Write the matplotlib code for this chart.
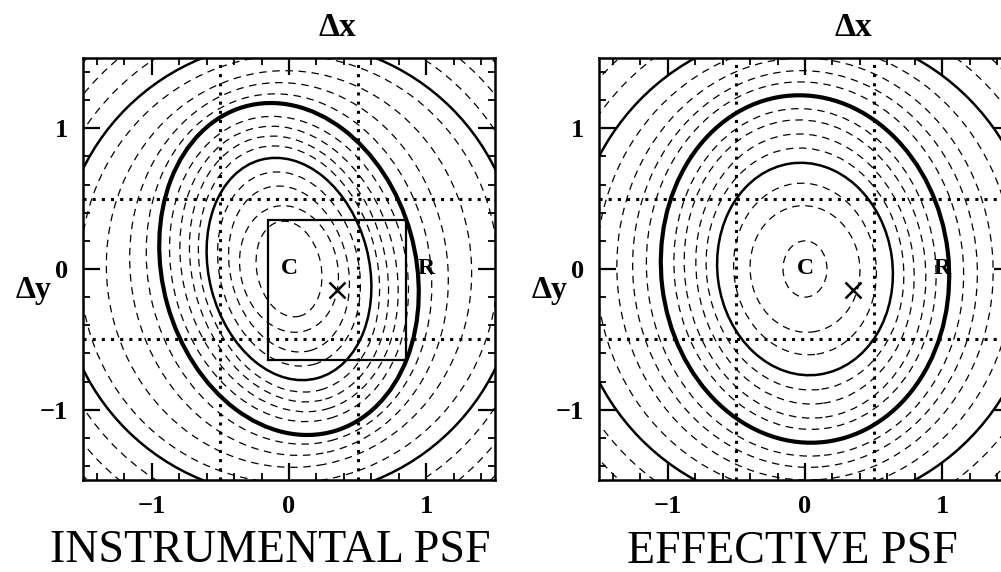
import numpy as np
import matplotlib
matplotlib.use('Agg')
import matplotlib.pyplot as plt
from matplotlib.patches import Ellipse, Rectangle

# contour half-widths / half-heights in pixel units, and tilt of the long axis (deg)
# 'd' = dashed level, 's' = solid decade, 't' = thick decade
instr_hx = [0.24, 0.36, 0.44, 0.52, 0.60, 0.66, 0.725, 0.795, 0.87, 0.945,
            1.04, 1.16, 1.33, 1.52, 1.67, 1.80, 1.95, 2.10]
instr_hy = [0.34, 0.45, 0.59, 0.69, 0.79, 0.875, 0.945, 1.015, 1.085, 1.18,
            1.245, 1.325, 1.41, 1.52, 1.62, 1.78, 1.94, 2.10]
instr_tilt = [12, 14, 15, 15, 15, 15, 16, 16, 16, 16, 14, 12, 9, 5, 0, 0, 0, 0]
instr_style = ['d', 'd', 'd', 'd', 's', 'd', 'd', 'd', 'd', 't',
               'd', 'd', 'd', 'd', 's', 'd', 'd', 'd']

eff_hx = [0.16, 0.40, 0.52, 0.64, 0.72, 0.795, 0.88, 0.955, 1.05,
          1.155, 1.255, 1.37, 1.52, 1.70, 1.86, 2.02, 2.17]
eff_hy = [0.20, 0.45, 0.61, 0.755, 0.86, 0.96, 1.06, 1.14, 1.235,
          1.33, 1.41, 1.50, 1.60, 1.70, 1.86, 2.02, 2.17]
eff_tilt = [0, 7, 8, 8, 8, 8, 8, 7, 7, 6, 5, 4, 2, 0, 0, 0, 0]
eff_style = ['d', 'd', 'd', 's', 'd', 'd', 'd', 'd', 't',
             'd', 'd', 'd', 'd', 's', 'd', 'd', 'd']

# pixel centre C, neighbour R, source position x and the pixel box
centre = (0.0, 0.0)
neighbour = (1.0, 0.0)
source = (0.35, -0.15)
pixel_size = 1.0
pixel_edges = [-0.5, 0.5]

line_kw = {
    'd': dict(lw=0.9, ls=(0, (6, 4.5))),
    's': dict(lw=1.8, ls='-'),
    't': dict(lw=3.0, ls='-'),
}

plt.rcParams['axes.unicode_minus'] = True
serif = ['Liberation Serif', 'DejaVu Serif']


def ellipse_size(hx, hy, tilt):
    # full width/height of an ellipse with given half extents along x and y
    t = np.radians(tilt)
    c2, s2 = np.cos(t) ** 2, np.sin(t) ** 2
    d = c2 - s2
    a2 = (hy ** 2 * c2 - hx ** 2 * s2) / d
    b2 = (hx ** 2 * c2 - hy ** 2 * s2) / d
    return 2 * np.sqrt(b2), 2 * np.sqrt(a2)


def panel(ax, hx, hy, tilt, style, title, title_x, box=False):
    for w_, h_, t_, s_ in zip(hx, hy, tilt, style):
        w, h = ellipse_size(w_, h_, t_)
        ax.add_patch(Ellipse(centre, w, h, angle=t_, fill=False,
                             color='black', **line_kw[s_]))

    for e in pixel_edges:
        ax.axvline(e, color='black', lw=2.2, ls=(0, (1, 2)))
        ax.axhline(e, color='black', lw=2.2, ls=(0, (1, 2)))

    if box:
        ax.add_patch(Rectangle((source[0] - pixel_size / 2, source[1] - pixel_size / 2),
                               pixel_size, pixel_size, fill=False,
                               color='black', lw=1.6))

    ax.plot(*source, marker='x', ms=12, mew=1.8, color='black')
    ax.text(*centre, 'C', ha='center', va='center', fontsize=17,
            fontweight='bold', family=serif)
    ax.text(*neighbour, 'R', ha='center', va='center', fontsize=17,
            fontweight='bold', family=serif)

    ax.set_xlim(-1.5, 1.5)
    ax.set_ylim(-1.5, 1.5)
    ax.set_xticks([-1, 0, 1])
    ax.set_yticks([-1, 0, 1])
    ax.set_xticks(np.arange(-1.4, 1.5, 0.2), minor=True)
    ax.set_yticks(np.arange(-1.4, 1.5, 0.2), minor=True)
    ax.tick_params(which='both', direction='in', top=True, right=True,
                   color='black')
    ax.tick_params(which='major', length=12, width=1.6, pad=11)
    ax.tick_params(which='minor', length=5, width=1.3)
    for lab in ax.get_xticklabels() + ax.get_yticklabels():
        lab.set_family(serif)
        lab.set_fontweight('bold')
        lab.set_fontsize(19)
    for sp in ax.spines.values():
        sp.set_linewidth(1.8)

    ax.text(source[0], 1.72, 'Δx', ha='center', va='center', fontsize=24,
            fontweight='bold', family=serif, clip_on=False)
    ax.text(-1.86, source[1], 'Δy', ha='center', va='center', fontsize=23,
            fontweight='bold', family=serif, clip_on=False)
    ax.text(title_x, -2.155, title, ha='center', va='bottom', fontsize=33,
            family=serif, clip_on=False)


fig = plt.figure(figsize=(10.01, 5.72), dpi=100)
ax1 = fig.add_axes([83 / 1001, 92 / 572, 412 / 1001, 422 / 572])
ax2 = fig.add_axes([599 / 1001, 92 / 572, 412 / 1001, 422 / 572])

panel(ax1, instr_hx, instr_hy, instr_tilt, instr_style,
      'INSTRUMENTAL PSF', -0.14, box=True)
panel(ax2, eff_hx, eff_hy, eff_tilt, eff_style, 'EFFECTIVE PSF', -0.09)

fig.savefig('out.png', dpi=100, facecolor='white')
